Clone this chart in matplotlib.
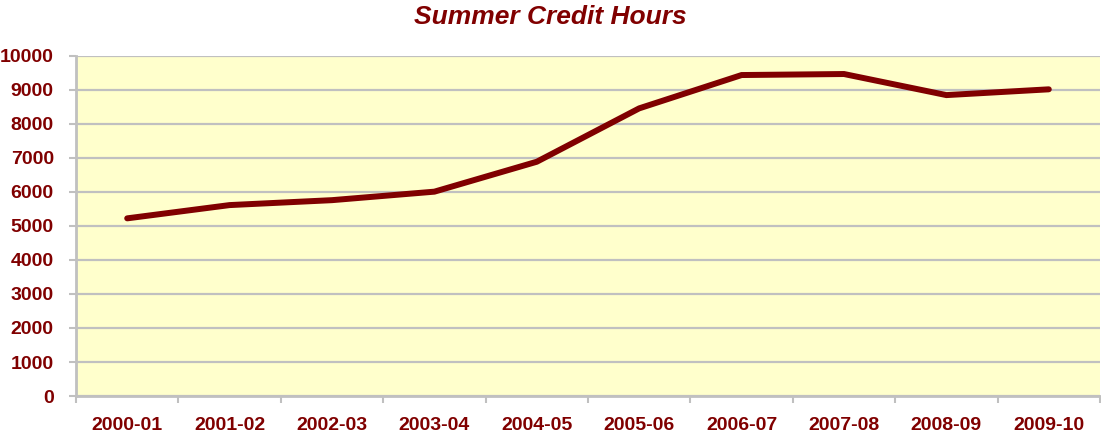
import matplotlib.pyplot as plt
import numpy as np

plt.rcParams['font.family'] = ['Liberation Sans', 'DejaVu Sans']

years = ['2000-01', '2001-02', '2002-03', '2003-04', '2004-05',
         '2005-06', '2006-07', '2007-08', '2008-09', '2009-10']
hours = [5225, 5615, 5760, 6010, 6890, 8460, 9440, 9470, 8850, 9020]
yticks = [0, 1000, 2000, 3000, 4000, 5000, 6000, 7000, 8000, 9000, 10000]

dark_red = '#800000'
grid_gray = '#C0C0C0'

fig = plt.figure(figsize=(11.01, 4.36), dpi=100)
ax = fig.add_axes([76 / 1101, 40 / 436, 1024 / 1101, 340 / 436])
ax.set_facecolor('#FFFFCC')

x = np.arange(len(years))
ax.plot(x, hours, color=dark_red, linewidth=4.3, solid_capstyle='round', solid_joinstyle='miter')

ax.set_xlim(-0.5, len(years) - 0.5)
ax.set_ylim(0, 10000)
ax.set_yticks(yticks)
ax.set_yticklabels([str(v) for v in yticks])
ax.set_xticks(x)
ax.set_xticklabels(years)
ax.set_xticks(np.arange(-0.5, len(years)), minor=True)

ax.grid(axis='y', color=grid_gray, linewidth=1.6)
ax.set_axisbelow(True)

for side in ['top', 'right']:
    ax.spines[side].set_visible(False)
for side in ['left', 'bottom']:
    ax.spines[side].set_color(grid_gray)
    ax.spines[side].set_linewidth(2)

ax.tick_params(axis='y', colors=grid_gray, length=5, width=1.5, pad=11,
               labelcolor=dark_red, labelsize=14)
ax.tick_params(axis='x', which='major', length=0, pad=15,
               labelcolor=dark_red, labelsize=14)
ax.tick_params(axis='x', which='minor', colors=grid_gray, length=5, width=1.5)
for lbl in ax.get_xticklabels() + ax.get_yticklabels():
    lbl.set_fontweight('bold')

fig.text(0.5, 0.962, 'Summer Credit Hours', ha='center', va='center',
         color=dark_red, fontsize=19, fontweight='bold', fontstyle='italic')

plt.savefig('out.png', dpi=100)
